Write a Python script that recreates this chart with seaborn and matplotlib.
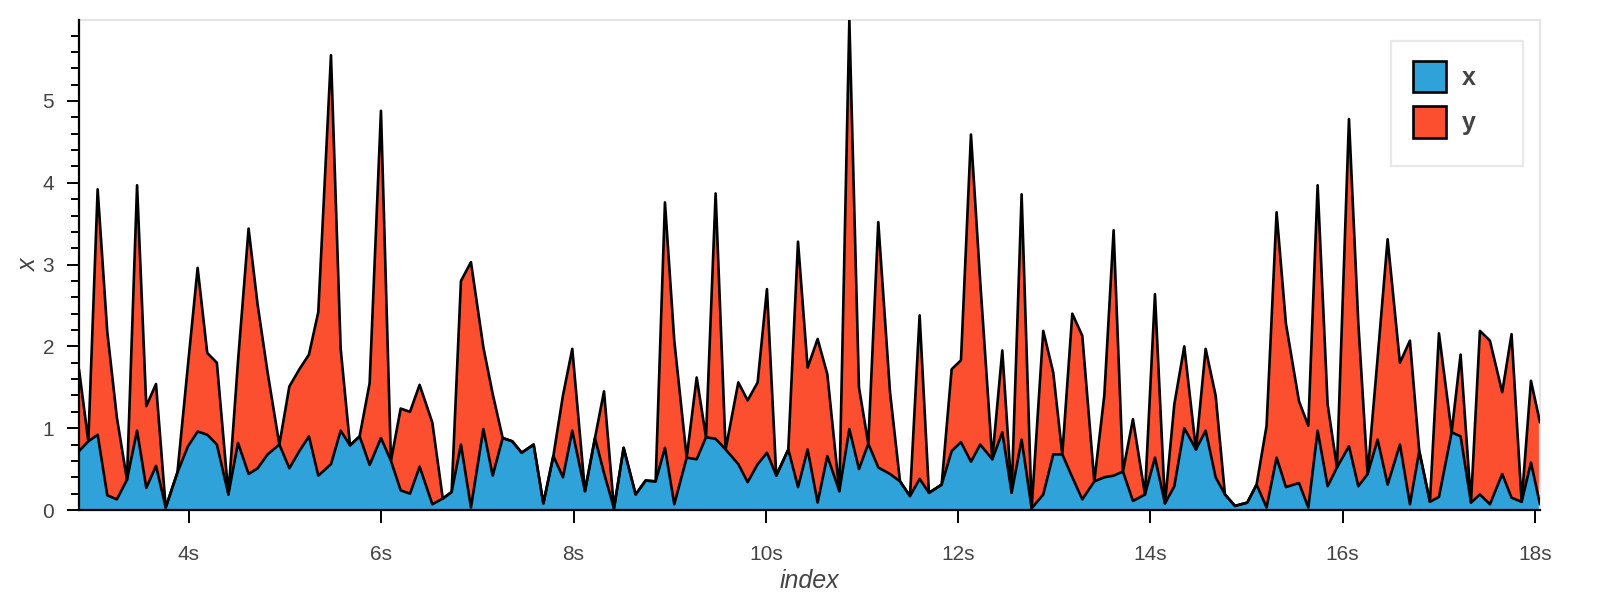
import numpy as np
import pandas as pd
import matplotlib
matplotlib.use("Agg")
import matplotlib.pyplot as plt
import seaborn as sns
from matplotlib.patches import Patch, Rectangle
from matplotlib.ticker import MultipleLocator, FuncFormatter, FixedLocator

# ---- data (index in seconds, stacked series x and y) ----
index_s = [2.856, 2.953, 3.050, 3.150, 3.250, 3.355, 3.460, 3.556, 3.657, 3.758,
           3.880, 3.990, 4.090, 4.190, 4.290, 4.410, 4.510, 4.620, 4.714, 4.818,
           4.940, 5.044, 5.148, 5.248, 5.345, 5.477, 5.578, 5.675, 5.775, 5.879,
           5.997, 6.101, 6.202, 6.299, 6.399, 6.531, 6.640, 6.732, 6.829, 6.933,
           7.062, 7.159, 7.263, 7.363, 7.460, 7.585, 7.686, 7.790, 7.890, 7.987,
           8.119, 8.223, 8.317, 8.421, 8.521, 8.646, 8.750, 8.854, 8.951, 9.048,
           9.177, 9.281, 9.378, 9.478, 9.582, 9.714, 9.811, 9.915, 10.012, 10.109,
           10.234, 10.335, 10.435, 10.539, 10.640, 10.765, 10.869, 10.969, 11.066, 11.170,
           11.292, 11.396, 11.500, 11.600, 11.697, 11.829, 11.933, 12.030, 12.134, 12.230,
           12.356, 12.460, 12.557, 12.661, 12.765, 12.886, 12.990, 13.084, 13.188, 13.292,
           13.417, 13.521, 13.618, 13.715, 13.819, 13.944, 14.048, 14.152, 14.249, 14.353,
           14.474, 14.575, 14.679, 14.776, 14.880, 15.008, 15.105, 15.209, 15.313, 15.410,
           15.546, 15.643, 15.740, 15.844, 15.941, 16.066, 16.163, 16.260, 16.364, 16.468,
           16.596, 16.700, 16.797, 16.908, 17.002, 17.134, 17.227, 17.335, 17.428, 17.532,
           17.660, 17.757, 17.862, 17.959, 18.053]

x_vals = [0.72, 0.84, 0.92, 0.18, 0.13, 0.37, 0.97, 0.27, 0.54, 0.03,
          0.46, 0.78, 0.96, 0.92, 0.80, 0.19, 0.82, 0.44, 0.51, 0.68,
          0.80, 0.51, 0.72, 0.90, 0.42, 0.56, 0.97, 0.79, 0.90, 0.55,
          0.88, 0.60, 0.24, 0.20, 0.53, 0.07, 0.14, 0.22, 0.80, 0.03,
          0.99, 0.42, 0.88, 0.84, 0.70, 0.80, 0.08, 0.66, 0.40, 0.97,
          0.23, 0.88, 0.45, 0.02, 0.76, 0.19, 0.36, 0.35, 0.76, 0.07,
          0.64, 0.62, 0.89, 0.87, 0.74, 0.56, 0.34, 0.56, 0.70, 0.42,
          0.74, 0.28, 0.74, 0.09, 0.66, 0.23, 0.99, 0.50, 0.81, 0.52,
          0.44, 0.35, 0.17, 0.38, 0.21, 0.31, 0.72, 0.83, 0.59, 0.80,
          0.62, 0.95, 0.21, 0.86, 0.02, 0.19, 0.68, 0.68, 0.40, 0.13,
          0.35, 0.40, 0.42, 0.47, 0.11, 0.19, 0.64, 0.08, 0.29, 1.00,
          0.74, 0.97, 0.40, 0.19, 0.05, 0.09, 0.31, 0.03, 0.64, 0.28,
          0.33, 0.03, 0.97, 0.29, 0.52, 0.78, 0.29, 0.44, 0.86, 0.31,
          0.80, 0.07, 0.72, 0.10, 0.16, 0.95, 0.90, 0.09, 0.19, 0.07,
          0.44, 0.15, 0.10, 0.58, 0.07]

y_vals = [1, 0, 3, 2, 1, 0, 3, 1, 1, 0,
          0, 1, 2, 1, 1, 0, 1, 3, 2, 1,
          0, 1, 1, 1, 2, 5, 1, 0, 0, 1,
          4, 0, 1, 1, 1, 1, 0, 0, 2, 3,
          1, 1, 0, 0, 0, 0, 0, 0, 1, 1,
          0, 0, 1, 0, 0, 0, 0, 0, 3, 2,
          0, 1, 0, 3, 0, 1, 1, 1, 2, 0,
          0, 3, 1, 2, 1, 0, 5, 1, 0, 3,
          1, 0, 0, 2, 0, 0, 1, 1, 4, 2,
          0, 1, 0, 3, 0, 2, 1, 0, 2, 2,
          0, 1, 3, 0, 1, 0, 2, 0, 1, 1,
          0, 1, 1, 0, 0, 0, 0, 1, 3, 2,
          1, 1, 3, 1, 0, 4, 2, 0, 1, 3,
          1, 2, 0, 0, 2, 0, 1, 0, 2, 2,
          1, 2, 0, 1, 1]

series_names = ["x", "y"]
series_colors = ["#30a2da", "#fc4f30"]

# ---- styling ----
sns.set_theme(style="white")
plt.rcParams['font.family'] = ['Liberation Sans', 'DejaVu Sans']

df = pd.DataFrame({"index": index_s, "x": x_vals, "y": y_vals})
df["top"] = df["x"] + df["y"]

W, H = 1600, 600
fig = plt.figure(figsize=(W / 100, H / 100), dpi=100)
left, right, top, bottom = 79, 1540, 20, 510
ax = fig.add_axes([left / W, 1 - bottom / H, (right - left) / W, (bottom - top) / H])

ax.fill_between(df["index"], 0, df["x"], color=series_colors[0], lw=0, zorder=1)
ax.fill_between(df["index"], df["x"], df["top"], color=series_colors[1], lw=0, zorder=1)
sns.lineplot(data=df, x="index", y="x", color="black", lw=1.9, ax=ax,
             estimator=None, sort=False, zorder=3)
sns.lineplot(data=df, x="index", y="top", color="black", lw=1.9, ax=ax,
             estimator=None, sort=False, zorder=3)

ax.set_xlim(df["index"].min(), df["index"].max())
ax.set_ylim(0, df["top"].max())

ax.xaxis.set_major_locator(FixedLocator([4, 6, 8, 10, 12, 14, 16, 18]))
ax.xaxis.set_major_formatter(FuncFormatter(lambda v, p: f"{int(round(v))}s"))
ax.yaxis.set_major_locator(MultipleLocator(1))
ax.yaxis.set_minor_locator(MultipleLocator(0.2))
ax.yaxis.set_major_formatter(FuncFormatter(lambda v, p: f"{int(round(v))}"))

ax.tick_params(axis="both", which="major", direction="out", length=9, width=1.4,
               color="black", labelsize=15, labelcolor="#444444", left=True, bottom=True)
ax.tick_params(axis="y", which="minor", direction="out", length=5.5, width=1.4,
               color="black", left=True)
ax.tick_params(axis="x", which="major", pad=16)
ax.tick_params(axis="y", which="major", pad=9)

for s in ["left", "bottom"]:
    ax.spines[s].set_color("black")
    ax.spines[s].set_linewidth(1.6)
    ax.spines[s].set_zorder(4)
for s in ["top", "right"]:
    ax.spines[s].set_color("#e5e5e5")
    ax.spines[s].set_linewidth(1.6)

ax.set_xlabel("index", fontsize=18, style="italic", color="#444444", labelpad=4)
ax.set_ylabel("x", fontsize=18, style="italic", color="#444444", labelpad=1)
ax.grid(False)

# legend frame (positioned in figure pixels) and legend entries
frame = Rectangle((1391 / W, 1 - 166 / H), (1523 - 1391) / W, (166 - 41) / H,
                  transform=fig.transFigure, facecolor="white",
                  edgecolor="#e8e8e8", linewidth=1.6, zorder=5, clip_on=False)
ax.add_patch(frame)
handles = [Patch(facecolor=c, edgecolor="black", linewidth=1.9, label=n)
           for n, c in zip(series_names, series_colors)]
leg = ax.legend(handles=handles, loc="upper left",
                bbox_to_anchor=(1413 / W, 1 - 61 / H), bbox_transform=fig.transFigure,
                borderaxespad=0, borderpad=0, fontsize=18,
                handlelength=1.32, handleheight=1.56,
                handletextpad=0.65, labelspacing=0.55, frameon=False)
leg.set_zorder(6)
for t in leg.get_texts():
    t.set_color("#444444")
    t.set_fontweight("bold")

fig.savefig("out.png", dpi=100)
